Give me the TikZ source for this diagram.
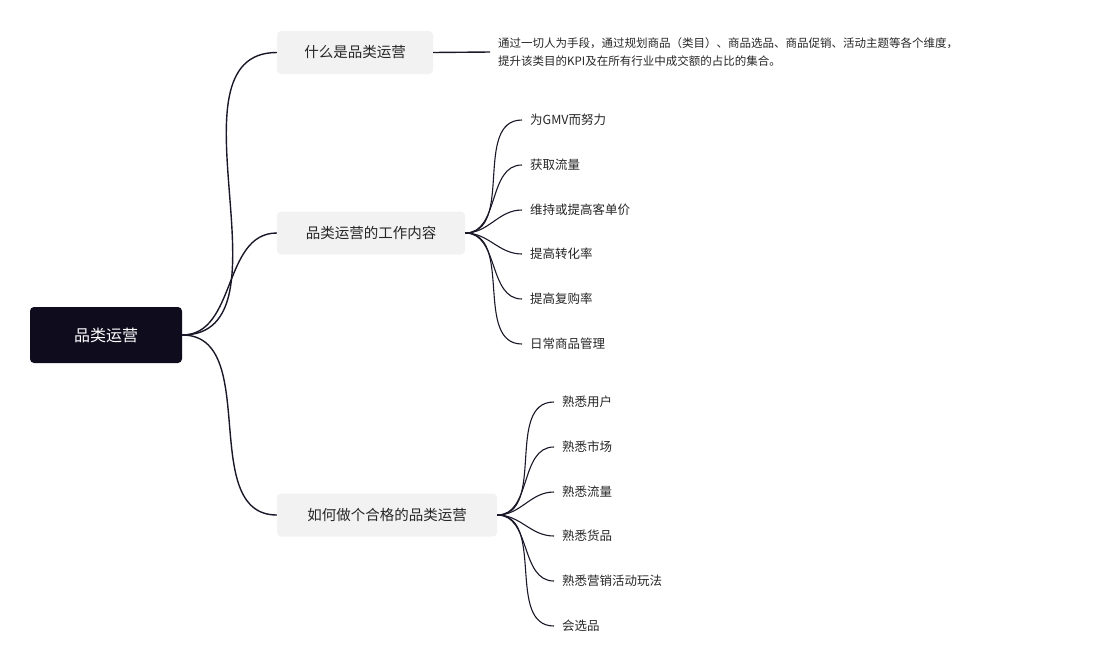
\documentclass[tikz,border=0pt]{standalone}
\usepackage{fontspec}
\setmainfont{Noto Sans CJK SC}
\usetikzlibrary{calc}
\definecolor{rootfill}{HTML}{0F0C1E}
\definecolor{topicfill}{HTML}{F2F2F2}
\definecolor{linecol}{HTML}{1A1728}
\begin{document}
\begin{tikzpicture}[x=1pt,y=-1pt]
		\tikzstyle{roottopic}=[rectangle,rounded corners=4pt,fill=rootfill,text=white,
			minimum width=152pt,minimum height=56pt,font=\fontsize{16}{18}\selectfont];
		\tikzstyle{maintopic}=[rectangle,rounded corners=4pt,fill=topicfill,text=black!85,
			minimum height=43pt,inner xsep=22pt,font=\fontsize{14.5}{17}\selectfont];
		\tikzstyle{subtopic}=[anchor=west,inner sep=0pt,text=black!85,font=\fontsize{12.5}{15}\selectfont];
		\tikzstyle{branch}=[draw=linecol,line width=1.4pt,out=0,in=180];
		\useasboundingbox (0,0) rectangle (1097,670);

		\node[roottopic](0) at (106,335){品类运营};

		\node[maintopic,minimum width=156pt](1) at (355,52.5){什么是品类运营};
		\node[subtopic,align=left,font=\fontsize{11.5}{18}\selectfont](11) at (498,52)
			{通过一切人为手段，通过规划商品（类目）、商品选品、商品促销、活动主题等各个维度，\\提升该类目的KPI及在所有行业中成交额的占比的集合。};
		\draw[draw=linecol,line width=1.4pt](1.east)--($(11.west)+(-8,0)$);

		\node[maintopic,minimum width=188pt](2) at (371,233){品类运营的工作内容};
		\node[subtopic](21) at (530,120){为GMV而努力};
		\node[subtopic](22) at (530,165){获取流量};
		\node[subtopic](23) at (530,210){维持或提高客单价};
		\node[subtopic](24) at (530,254){提高转化率};
		\node[subtopic](25) at (530,299){提高复购率};
		\node[subtopic](26) at (530,344){日常商品管理};
		\foreach \i in {21,22,23,24,25,26}
			\draw[branch,line width=1.1pt](2.east) to ($(\i.west)+(-8,0)$);

		\node[maintopic,minimum width=220pt](3) at (387,515){如何做个合格的品类运营};
		\node[subtopic](31) at (562,402){熟悉用户};
		\node[subtopic](32) at (562,447){熟悉市场};
		\node[subtopic](33) at (562,492){熟悉流量};
		\node[subtopic](34) at (562,536){熟悉货品};
		\node[subtopic](35) at (562,581){熟悉营销活动玩法};
		\node[subtopic](36) at (562,626){会选品};
		\foreach \i in {31,32,33,34,35,36}
			\draw[branch,line width=1.1pt](3.east) to ($(\i.west)+(-8,0)$);

		\draw[branch](0.east) to (1.west);
		\draw[branch](0.east) to (2.west);
		\draw[branch](0.east) to (3.west);
	\end{tikzpicture}
\end{document}
